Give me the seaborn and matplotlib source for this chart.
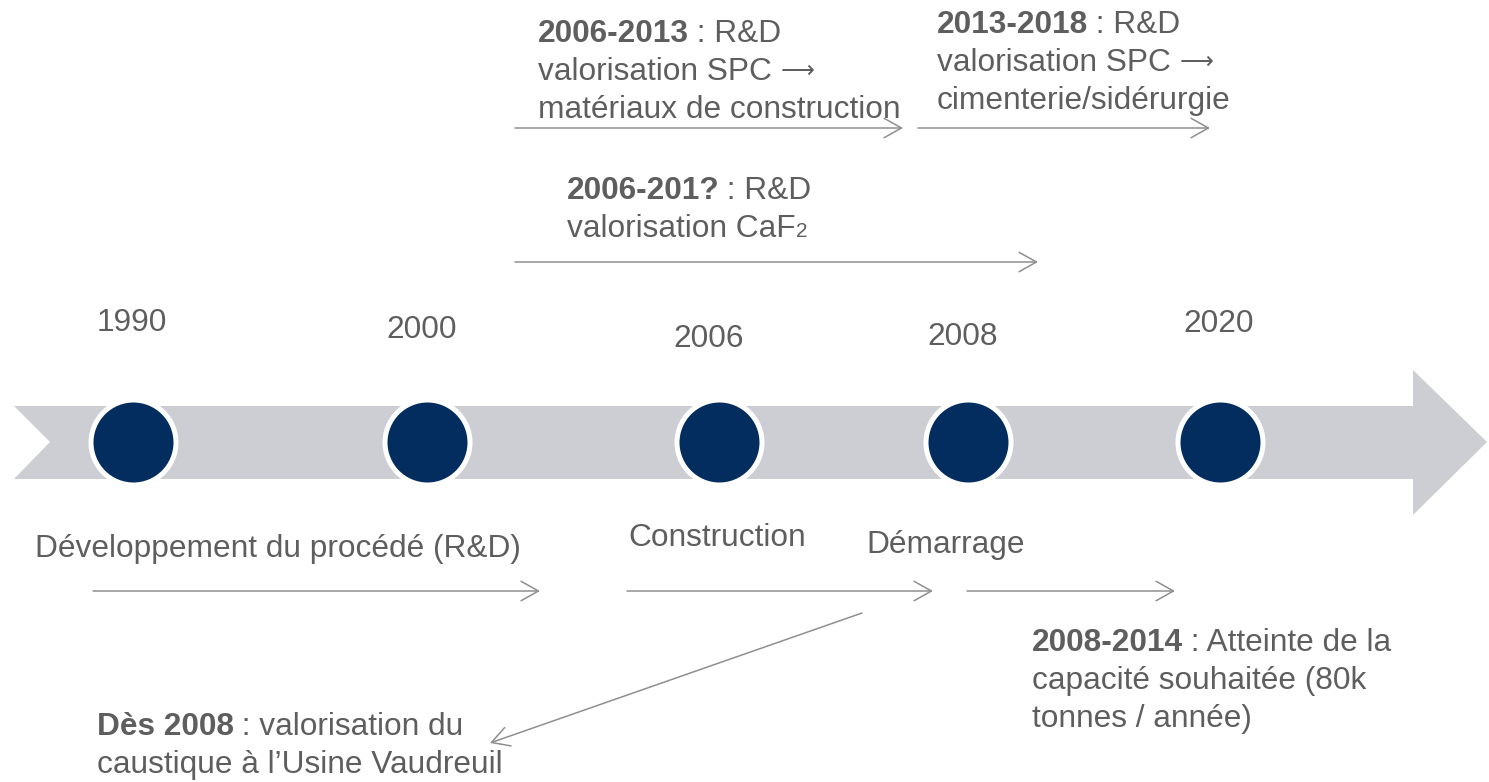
import pandas as pd
import matplotlib.pyplot as plt
import seaborn as sns

sns.set_theme(style='white')
plt.rcParams['font.family'] = ['Liberation Sans', 'DejaVu Sans']

# ── data ────────────────────────────────────────────────────────────────────
years = ['1990', '2000', '2006', '2008', '2020']
node_x = [133, 427, 719, 968, 1220]          # position of each milestone on the band
year_x = [97, 386, 673, 927, 1183]
year_y = [331, 338, 347, 345, 332]

phases = ['Développement du procédé (R&D)', 'Construction', 'Démarrage']
phase_x = [35, 628, 866]
phase_y = [557, 546, 553]

# (bold, rest of first line, other lines, x, first baseline)
notes = [
    ('2006-2013', ' : R&D', ['valorisation SPC →', 'matériaux de construction'], 538, 42),
    ('2013-2018', ' : R&D', ['valorisation SPC →', 'cimenterie/sidérurgie'], 937, 33),
    ('2006-201?', ' : R&D', ['valorisation CaF'], 567, 199),
    ('Dès 2008', ' : valorisation du', ['caustique à l’Usine Vaudreuil'], 97, 735),
    ('2008-2014', ' : Atteinte de la', ['capacité souhaitée (80k', 'tonnes / année)'], 1032, 651),
]

# period arrows: start x, start y, end x, end y
arr_x0 = [515, 918, 515, 93, 627, 967, 862]
arr_y0 = [128, 128, 262, 591, 591, 591, 613]
arr_x1 = [903, 1210, 1038, 540, 933, 1175, 490]
arr_y1 = [128, 128, 262, 591, 591, 591, 743]

band_x = [14, 1413, 1413, 1487, 1413, 1413, 14, 50]
band_y = [406, 406, 370, 442, 515, 479, 479, 442]

TXT = '#5e5e5e'
FS = 22.8

fig = plt.figure(figsize=(14.89, 7.82), dpi=100)
ax = fig.add_axes([0, 0, 1, 1])

# ── band + milestones ───────────────────────────────────────────────────────
ax.fill(band_x, band_y, color='#cdced3', lw=0, zorder=1)

nodes = pd.DataFrame({'x': node_x, 'y': [442] * len(node_x), 'year': years})
sns.scatterplot(data=nodes, x='x', y='y', ax=ax, s=3745, color='#022d5e',
                edgecolor='white', linewidth=3.6, zorder=3, legend=False)
ax.set_xlim(0, 1489)
ax.set_ylim(782, 0)
ax.axis('off')

for lab, x, y in zip(years, year_x, year_y):
    ax.text(x, y, lab, fontsize=FS, color=TXT, va='baseline', ha='left')

for lab, x, y in zip(phases, phase_x, phase_y):
    ax.text(x, y, lab, fontsize=FS, color=TXT, va='baseline', ha='left')

# ── notes ────────────────────────────────────────────────────────────────────
for bold, rest, lines, x, y in notes:
    b = ax.text(x, y, bold, fontsize=FS, color=TXT, fontweight='bold',
                va='baseline', ha='left')
    ax.annotate(rest, xy=(1, 0), xycoords=b, xytext=(-1, 0),
                textcoords='offset points', fontsize=FS, color=TXT,
                va='bottom', ha='left')
    for i, ln in enumerate(lines):
        yy = y + 38 * (i + 1)
        if ln.endswith('→'):
            t = ax.text(x, yy, ln[:-1], fontsize=FS, color=TXT,
                        va='baseline', ha='left')
            # long thin arrow, as in the original slide
            ax.annotate('⟶', xy=(1, 0), xycoords=t, xytext=(0, 3),
                        textcoords='offset points', fontsize=17,
                        family='DejaVu Sans', color=TXT, va='bottom', ha='left')
        else:
            t = ax.text(x, yy, ln, fontsize=FS, color=TXT,
                        va='baseline', ha='left')
        if ln.endswith('CaF'):
            ax.annotate('2', xy=(1, 0), xycoords=t, xytext=(0, 2),
                        textcoords='offset points', fontsize=15, color=TXT,
                        va='bottom', ha='left')

# ── arrows ──────────────────────────────────────────────────────────────────
for x0, y0, x1, y1 in zip(arr_x0, arr_y0, arr_x1, arr_y1):
    ax.annotate('', xy=(x1, y1), xytext=(x0, y0),
                arrowprops=dict(arrowstyle='->,head_length=0.5,head_width=0.28',
                                color='#8f8f8f', lw=1.1, mutation_scale=25,
                                shrinkA=0, shrinkB=0))

plt.savefig('out.png', dpi=100)
